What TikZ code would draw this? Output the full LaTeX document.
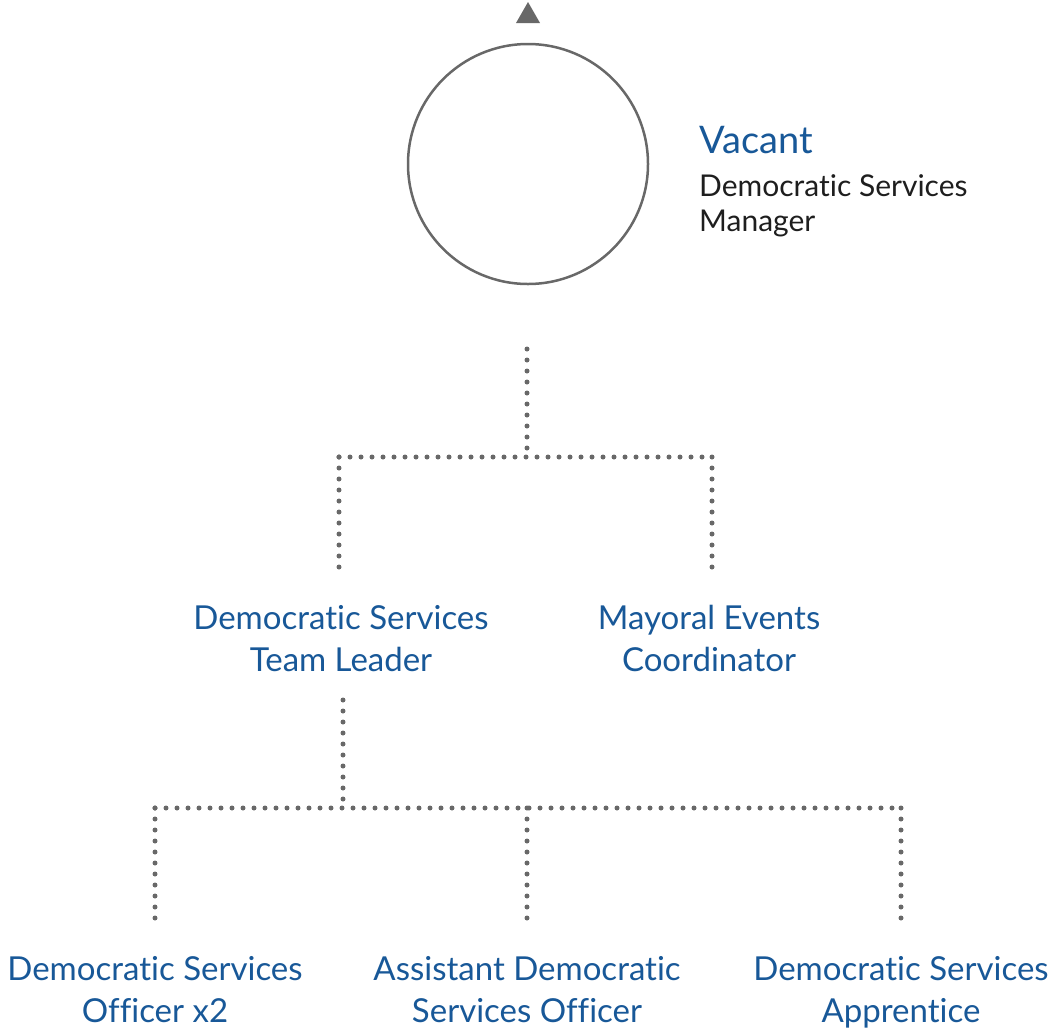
\documentclass[tikz,border=0pt]{standalone}
\usepackage{fontspec}
\setmainfont{Lato}[Ligatures=NoCommon]
\definecolor{dsblue}{RGB}{24,88,152}
\definecolor{dsgray}{RGB}{104,104,104}
\definecolor{dstext}{RGB}{30,30,30}
\tikzset{
  dotline/.style={draw=dsgray, line width=5pt, line cap=round, dash pattern=on 0pt off 11pt},
  role/.style={text=dsblue, font=\fontsize{33}{41.5}\selectfont, align=center, inner sep=0pt, anchor=base},
}
\begin{document}
\begin{tikzpicture}[x=1pt,y=-1pt]
\useasboundingbox (0,0) rectangle (1050,1029);
% top
\fill[dsgray] (516,23) -- (540,23) -- (528,2) -- cycle;
\node[circle, draw=dsgray, line width=2.5pt, minimum size=240pt, inner sep=0pt] (mgr) at (528,164) {};
\node[anchor=base west, inner sep=0pt, text=dsblue, font=\fontsize{38}{44}\selectfont] (vac) at (699,153) {Vacant};
\node[anchor=base west, inner sep=0pt, text=dstext, font=\fontsize{30}{35}\selectfont, align=left] (mgrt) at (699,231) {Democratic Services\\Manager};
% level 1 junctions
\coordinate (a0) at (527,349);
\coordinate (a1) at (527,457);
\coordinate (aL) at (339,457);
\coordinate (aR) at (712,457);
\coordinate (aLd) at (339,569);
\coordinate (aRd) at (712,569);
\draw[dotline] (a0) -- (a1);
\draw[dotline] (aL) -- (aR);
\draw[dotline] (aL) -- (aLd);
\draw[dotline] (aR) -- (aRd);
\node[role] (tl) at (341,671) {Democratic Services\\Team Leader};
\node[role] (me) at (709,671) {Mayoral Events\\Coordinator};
% level 2
\coordinate (b0) at (343,700);
\coordinate (b1) at (343,808);
\coordinate (bL) at (155,808);
\coordinate (bM) at (527,808);
\coordinate (bR) at (901,808);
\coordinate (bLd) at (155,920);
\coordinate (bMd) at (527,920);
\coordinate (bRd) at (901,920);
\draw[dotline] (b0) -- (b1);
\draw[dotline] (bL) -- (bR);
\draw[dotline] (bL) -- (bLd);
\draw[dotline] (bM) -- (bMd);
\draw[dotline] (bR) -- (bRd);
\node[role] (o1) at (155,1022) {Democratic Services\\Officer x2};
\node[role] (o2) at (527,1022) {Assistant Democratic\\Services Officer};
\node[role] (o3) at (901,1022) {Democratic Services\\Apprentice};
\end{tikzpicture}
\end{document}
